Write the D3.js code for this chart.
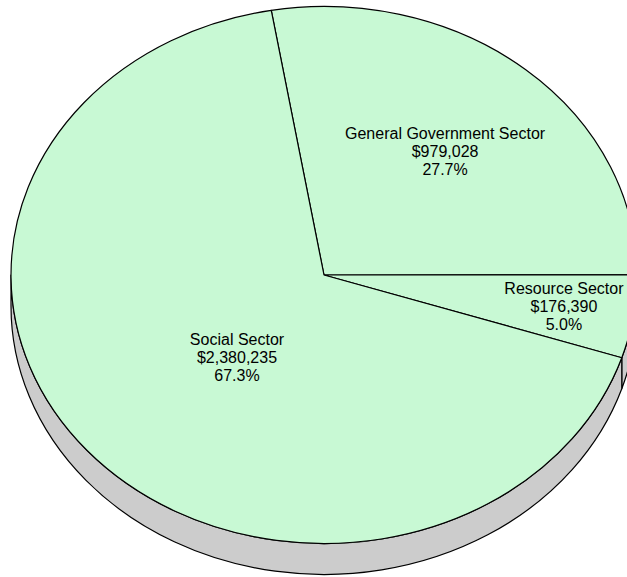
<!DOCTYPE html>
<html>
<head>
<meta charset="utf-8">
<script src="https://cdn.jsdelivr.net/npm/d3@7"></script>
<style>
  html, body { margin: 0; padding: 0; background: #fff; }
  svg { display: block; }
</style>
</head>
<body>
<svg id="chart" width="627" height="577"></svg>
<script>
// ---- data ----
const categories = ["General Government Sector", "Resource Sector", "Social Sector"];
const amounts = [979028, 176390, 2380235];
const percentLabels = ["27.7%", "5.0%", "67.3%"];

// ---- layout ----
const W = 627, H = 577;
const cx = 324, cy = 275, rx = 313, ry = 268.5, depth = 31;
const startDeg = -9.7; // pie start angle, clockwise from 12 o'clock
const topFill = "#c8f9d4", sideFill = "#cccccc";
const labelLayout = [{ r: 0.60, da: 0 }, { r: 0.776, da: 0 }, { r: 0.416, da: -7.2 }];

const svg = d3.select("#chart");
const toRad = d => d * Math.PI / 180;

const pie = d3.pie().sort(null).value(d => d.value)
  .startAngle(toRad(startDeg)).endAngle(toRad(startDeg) + 2 * Math.PI);
const data = categories.map((c, i) => ({ name: c, value: amounts[i], pct: percentLabels[i] }));
const arcs = pie(data);

// parametric angle (from +x, clockwise on screen)
const theta = a => a - Math.PI / 2;
const pt = (t, dy = 0) => [cx + rx * Math.cos(t), cy + ry * Math.sin(t) + dy];

function topPath(a0, a1) {
  const t0 = theta(a0), t1 = theta(a1);
  const p0 = pt(t0), p1 = pt(t1);
  const large = (a1 - a0) > Math.PI ? 1 : 0;
  return `M${cx},${cy}L${p0[0]},${p0[1]}A${rx},${ry} 0 ${large} 1 ${p1[0]},${p1[1]}Z`;
}

function sidePath(t0, t1) {
  const p0 = pt(t0), p1 = pt(t1), q1 = pt(t1, depth), q0 = pt(t0, depth);
  const large = (t1 - t0) > Math.PI ? 1 : 0;
  return `M${p0[0]},${p0[1]}A${rx},${ry} 0 ${large} 1 ${p1[0]},${p1[1]}` +
         `L${q1[0]},${q1[1]}A${rx},${ry} 0 ${large} 0 ${q0[0]},${q0[1]}Z`;
}

// sides (visible for parametric angle in [0, PI], considering wrap)
const sides = [];
arcs.forEach(a => {
  let t0 = theta(a.startAngle), t1 = theta(a.endAngle);
  [-2 * Math.PI, 0, 2 * Math.PI].forEach(off => {
    const s = Math.max(t0 + off, 0), e = Math.min(t1 + off, Math.PI);
    if (e > s) sides.push([s, e]);
  });
});

svg.append("g").selectAll("path").data(sides).join("path")
  .attr("d", d => sidePath(d[0], d[1]))
  .attr("fill", sideFill)
  .attr("stroke", "#000")
  .attr("stroke-width", 1.2)
  .attr("stroke-linejoin", "round");

svg.append("g").selectAll("path").data(arcs).join("path")
  .attr("d", d => topPath(d.startAngle, d.endAngle))
  .attr("fill", topFill)
  .attr("stroke", "#000")
  .attr("stroke-width", 1.2)
  .attr("stroke-linejoin", "round");

const fmt = d3.format("$,");
const labels = svg.append("g")
  .attr("font-family", "'Liberation Sans', Arial, sans-serif")
  .attr("font-size", 16)
  .attr("fill", "#000")
  .attr("text-anchor", "middle");

arcs.forEach((a, i) => {
  const L = labelLayout[i];
  const mid = theta((a.startAngle + a.endAngle) / 2) + toRad(L.da);
  const x = cx + rx * L.r * Math.cos(mid);
  const y = cy + ry * L.r * Math.sin(mid);
  const t = labels.append("text").attr("x", x).attr("y", y - 13);
  [a.data.name, fmt(a.data.value), a.data.pct].forEach((line, k) => {
    t.append("tspan").attr("x", x).attr("dy", k === 0 ? 0 : 18).text(line);
  });
});
</script>
</body>
</html>
